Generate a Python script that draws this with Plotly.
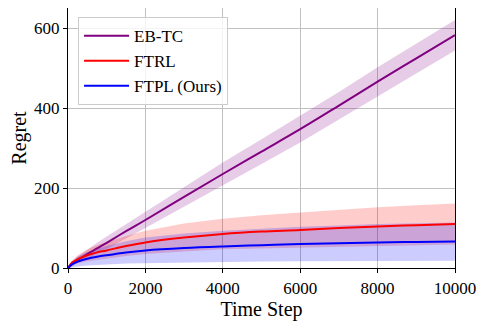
import plotly.graph_objects as go

# time steps where values were read
steps = [0, 100, 250, 500, 750, 1000, 1500, 2000, 3000, 4000, 5000, 6000, 7000, 8000, 9000, 10000]

# EB-TC
ebtc_mean = [0, 9, 20, 35, 49, 63, 92, 120, 178, 235, 291, 347, 406, 466, 524, 582]
ebtc_band = [0, 5, 8, 11, 14, 16, 18, 20, 25, 29, 31, 33, 34, 36, 37, 38]

# FTRL
ftrl_mean = [0, 13, 22, 32, 39, 44, 55, 64, 76, 85, 91, 95, 100, 104, 107, 110]
ftrl_band = [0, 6, 10, 15, 18, 21, 25, 29, 35, 38, 41, 44, 46, 48, 50, 51]

# FTPL (ours)
ftpl_mean = [0, 9, 16, 23, 28, 32, 39, 44, 50, 54, 57, 60, 62, 64, 65, 66]
ftpl_band = [0, 7, 12, 17, 20, 23, 28, 32, 36, 39, 41, 43, 44, 46, 47, 48]

series = [
    ("EB-TC", ebtc_mean, ebtc_band, "#800080", "rgba(128,0,128,0.2)"),
    ("FTRL", ftrl_mean, ftrl_band, "#ff0000", "rgba(255,0,0,0.2)"),
    ("FTPL (Ours)", ftpl_mean, ftpl_band, "#0000ff", "rgba(0,0,255,0.2)"),
]

fig = go.Figure()

# shaded bands first
for name, mean, band, col, fillcol in series:
    upper = [m + b for m, b in zip(mean, band)]
    lower = [m - b for m, b in zip(mean, band)]
    fig.add_trace(go.Scatter(
        x=steps + steps[::-1], y=upper + lower[::-1],
        fill="toself", fillcolor=fillcol, mode="lines",
        line=dict(width=0),
        showlegend=False, hoverinfo="skip"))

# mean lines
for name, mean, band, col, fillcol in series:
    fig.add_trace(go.Scatter(
        x=steps, y=mean, name=name, mode="lines",
        line=dict(color=col, width=2, shape="spline", smoothing=1)))

axis_style = dict(
    showline=True, linecolor="black", linewidth=1.2, mirror=True,
    ticks="outside", ticklen=4, tickcolor="black",
    showgrid=True, gridcolor="#c0c0c0", gridwidth=1,
    zeroline=False,
)

xticks = [0, 2000, 4000, 6000, 8000, 10000]
yticks = [0, 200, 400, 600]

fig.update_xaxes(range=[0, 10000], tickvals=xticks, ticktext=[str(v) for v in xticks],
                 title_text="Time Step", title_standoff=2, **axis_style)
fig.update_yaxes(range=[0, 650], tickvals=yticks, ticktext=[str(v) for v in yticks],
                 title_text="Regret", title_standoff=6, **axis_style)

fig.update_layout(
    width=488, height=327,
    margin=dict(l=60, r=41, t=0, b=67, autoexpand=False),
    paper_bgcolor="white", plot_bgcolor="white",
    font=dict(family="Liberation Serif", size=17, color="black"),
    legend=dict(
        x=0.026, y=0.965, xanchor="left", yanchor="top",
        bgcolor="rgba(255,255,255,0.8)", bordercolor="#cccccc", borderwidth=1,
        font=dict(size=17), itemwidth=45,
    ),
)

fig.write_html("out.html")
